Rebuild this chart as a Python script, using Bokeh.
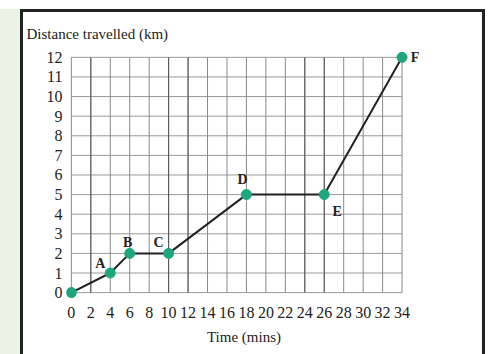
from bokeh.plotting import figure
from bokeh.models import Range1d, FixedTicker, Label
from bokeh.embed import file_html
from bokeh.resources import INLINE

# data
time_min = [0, 4, 6, 10, 18, 26, 34]
distance_km = [0, 1, 2, 2, 5, 5, 12]
point_names = ["", "A", "B", "C", "D", "E", "F"]
x_ticks = list(range(0, 35, 2))
y_ticks = list(range(0, 13))
dark_x = [2, 10, 12, 24, 26]

# label pixel offsets (style)
label_dx = [0, -10, -2, -10, -4, 13, 13]
label_dy = [0, 10, 11, 11, 15, -17, 0]

W, H = 465, 345
FONT = "Liberation Serif"

p = figure(width=W, height=H, output_backend="svg", toolbar_location=None,
           x_range=Range1d(-0.5, 36), y_range=Range1d(-0.3, 12.4),
           min_border_left=43, min_border_right=67, min_border_top=37, min_border_bottom=59,
           title="Distance travelled (km)")
p.styles = {"box-sizing": "border-box", "margin-top": "9px", "margin-left": "20px",
            "border": "3px solid #222222", "border-bottom": "none",
            "box-shadow": "-22px 0 0 0 #e9f3e6"}
p.outline_line_color = None
p.grid.visible = False
p.background_fill_color = "white"
p.border_fill_color = "white"

p.title.text_font = FONT
p.title.text_font_size = "15px"
p.title.text_font_style = "normal"
p.title.text_color = "#222222"
p.title.align = "left"
p.title.offset = -40
p.title.standoff = 16

for ax, ticks in ((p.xaxis[0], x_ticks), (p.yaxis[0], y_ticks)):
    ax.ticker = FixedTicker(ticks=ticks)
    ax.axis_line_color = None
    ax.major_tick_line_color = None
    ax.minor_tick_line_color = None
    ax.major_label_text_font = FONT
    ax.major_label_text_font_size = "16px"
    ax.major_label_text_color = "#222222"
    ax.major_label_standoff = 2
p.yaxis.major_label_standoff = -2

p.xaxis.axis_label = "Time (mins)"
p.xaxis.axis_label_text_font = FONT
p.xaxis.axis_label_text_font_size = "15px"
p.xaxis.axis_label_text_font_style = "normal"
p.xaxis.axis_label_text_color = "#222222"
p.xaxis.axis_label_standoff = 8

# grid
p.segment(x0=[x_ticks[0]] * len(y_ticks), y0=y_ticks, x1=[x_ticks[-1]] * len(y_ticks), y1=y_ticks,
          line_color="#9a9a9a", line_width=1)
p.segment(x0=x_ticks, y0=[y_ticks[0]] * len(x_ticks), x1=x_ticks, y1=[y_ticks[-1]] * len(x_ticks),
          line_color="#8a8a8a", line_width=1)
p.segment(x0=dark_x, y0=[y_ticks[0]] * len(dark_x), x1=dark_x, y1=[y_ticks[-1]] * len(dark_x),
          line_color="#555555", line_width=1)

p.line(time_min, distance_km, line_color="#222222", line_width=2)
p.scatter(time_min, distance_km, size=10, fill_color="#1ea67c", line_color="#1ea67c")

for x, y, n, dx, dy in zip(time_min, distance_km, point_names, label_dx, label_dy):
    if n:
        p.add_layout(Label(x=x, y=y, text=n, x_offset=dx, y_offset=dy, text_font=FONT,
                           text_font_style="bold", text_font_size="14px", text_color="#222222",
                           text_align="center", text_baseline="middle"))

open("out.html", "w").write(file_html(p, INLINE))
